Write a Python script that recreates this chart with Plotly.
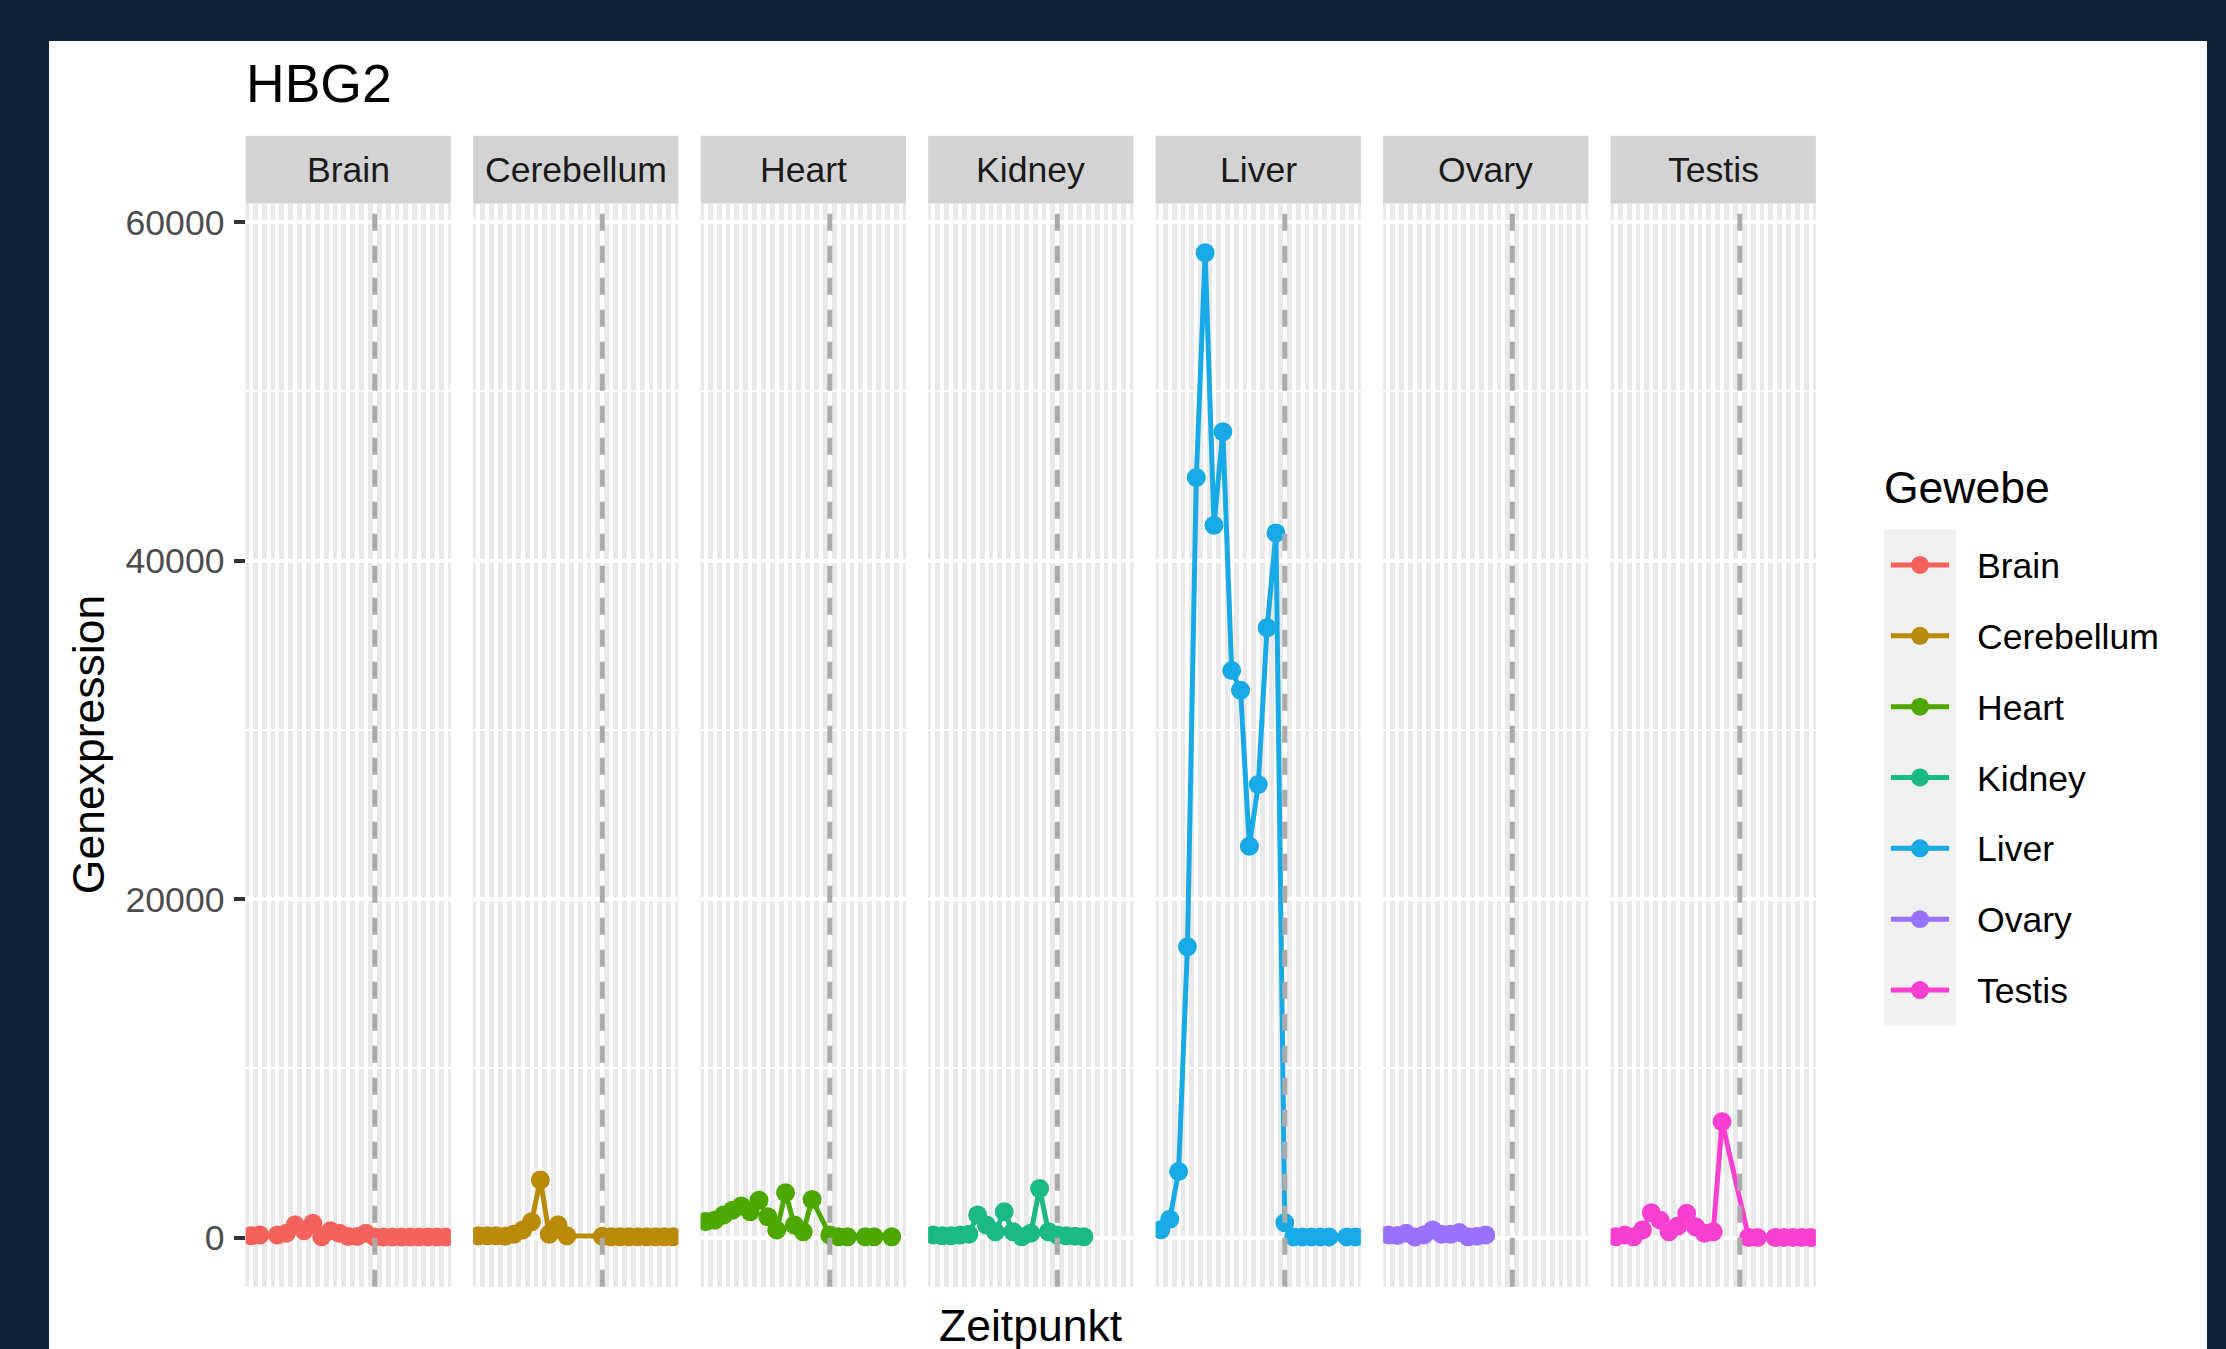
import plotly.graph_objects as go

W, H = 2226, 1349

# ---------------- data ----------------
categories = ["4 wpc", "5 wpc", "6 wpc", "7 wpc", "8 wpc", "9 wpc", "10 wpc",
              "11 wpc", "12 wpc", "13 wpc", "16 wpc", "18 wpc", "19 wpc", "20 wpc",
              "Neugeborenes", "Säugling", "Kleinkind", "Schulkind", "Teenager",
              "Junge Erwachsene", "Junges mittleres Alter",
              "Älteres mittleres Alter", "Senioren"]
birth_category = "Neugeborenes"

tissues = ["Brain", "Cerebellum", "Heart", "Kidney", "Liver", "Ovary", "Testis"]
colors = ["#F5625C", "#BA8A08", "#4CA800", "#1BB985", "#17AAE6", "#9872FD", "#F840D0"]

brain = [100, 150, None, 150, 250, 750, 400, 850, 50, 400, 250, 60, 60, 250,
         30, 30, 30, 30, 30, 30, 30, 30, 30]
cerebellum = [100, 100, 100, 80, 200, 440, 930, 3400, 200, 750, 100, None, None, None,
              80, 50, 50, 50, 50, 50, 50, 50, 50]
heart = [950, 1030, 1330, 1620, 1860, 1530, 2200, 1230, 440, 2650, 740, 345, 2250, None,
         150, 50, 50, None, 50, 50, None, 50, None]
kidney = [150, 100, 100, 150, 200, 1330, 740, 345, 1530, 345, 50, 250, 2900, 345,
          150, 100, 80, 50, None, None, None, None, None]
liver = [455, 1077, 3900, 17180, 44910, 58190, 42090, 47610, 33500, 32340, 23120, 26770,
         36030, 41630, 870, 40, 40, 40, 40, 40, None, 40, 40]
ovary = [150, 120, 250, 30, 150, 450, 200, 200, 300, 50, 80, 150, None, None,
         None, None, None, None, None, None, None, None, None]
testis = [50, 150, 50, 450, 1470, 1030, 345, 680, 1430, 640, 250, 345, 6845, None,
          None, 0, 0, None, 0, 0, 0, 0, 0]

series = [brain, cerebellum, heart, kidney, liver, ovary, testis]

y_ticks = [0, 20000, 40000, 60000]

# ---------------- styling / layout helpers ----------------
FONT = "Liberation Sans, Arial, Helvetica, sans-serif"
DARK = "#13233A"
PANEL_BG = "#E9E9E9"
STRIP_BG = "#D3D3D3"
KEY_BG = "#F0F0F0"


def px_x(p):
    return p / W


def px_y(p):
    return 1 - p / H


panel_left0 = 245.6
panel_w = 205.3
panel_gap = 22.2
panel_top = 203.5
panel_bottom = 1286.8
strip_top = 135.7

all_vals = [v for s in series for v in s if v is not None]
lo, hi = min(all_vals), max(all_vals)
pad = (hi - lo) * 0.05
y_range = [lo - pad, hi + pad]
n_cat = len(categories)
x_range = [-0.6, n_cat - 1 + 0.6]

fig = go.Figure()
layout = dict(
    width=W, height=H, autosize=False,
    margin=dict(l=0, r=0, t=0, b=0, pad=0),
    paper_bgcolor="white", plot_bgcolor=PANEL_BG,
    font=dict(family=FONT, color="black"),
    showlegend=False,
)
shapes = []
annotations = []

for k, (name, col, vals) in enumerate(zip(tissues, colors, series)):
    sfx = "" if k == 0 else str(k + 1)
    x0 = panel_left0 + k * (panel_w + panel_gap)
    x1 = x0 + panel_w
    layout["xaxis" + sfx] = dict(
        domain=[px_x(x0), px_x(x1)], anchor="y" + sfx,
        type="category", categoryorder="array", categoryarray=categories,
        range=x_range, tickmode="array", tickvals=categories,
        showticklabels=False, ticks="", showgrid=True, gridcolor="white",
        gridwidth=4, zeroline=False, showline=False, fixedrange=True,
    )
    layout["yaxis" + sfx] = dict(
        domain=[px_y(panel_bottom), px_y(panel_top)], anchor="x" + sfx,
        range=y_range, tickmode="array", tickvals=y_ticks, tickformat="d",
        showgrid=True, gridcolor="white", gridwidth=4,
        minor=dict(tickmode="linear", tick0=0, dtick=10000, showgrid=True,
                   gridcolor="white", gridwidth=2, ticks=""),
        zeroline=False, showline=False, fixedrange=True,
        showticklabels=(k == 0), ticks="outside" if k == 0 else "",
        ticklen=11, tickwidth=4, tickcolor="#333333",
        tickfont=dict(size=35.6, color="#4D4D4D", family=FONT),
        ticklabelstandoff=2,
    )
    xs = [c for c, v in zip(categories, vals) if v is not None]
    ys = [v for v in vals if v is not None]
    fig.add_trace(go.Scatter(
        x=xs, y=ys, mode="lines+markers", name=name,
        line=dict(color=col, width=5),
        marker=dict(color=col, size=19),
        xaxis="x" + sfx, yaxis="y" + sfx, showlegend=False,
        hoverinfo="x+y+name",
    ))
    # dashed vertical line at birth
    shapes.append(dict(
        type="line", xref="x" + sfx, yref="y" + sfx + " domain",
        x0=categories.index(birth_category), x1=categories.index(birth_category),
        y0=0, y1=1, line=dict(color="#ABABAB", width=5, dash="17px,15px"),
        layer="above",
    ))
    # facet strip
    shapes.append(dict(
        type="rect", xref="paper", yref="paper",
        x0=px_x(x0), x1=px_x(x1), y0=px_y(panel_top), y1=px_y(strip_top),
        fillcolor=STRIP_BG, line=dict(width=0), layer="below",
    ))
    annotations.append(dict(
        text=name, xref="paper", yref="paper",
        x=px_x((x0 + x1) / 2), y=px_y((panel_top + strip_top) / 2),
        xanchor="center", yanchor="middle", showarrow=False,
        font=dict(size=35.6, color="#1A1A1A", family=FONT),
    ))

# ---------------- legend (drawn manually on an auxiliary axis) ----------------
key_left, key_right = 1884.5, 1955.5
key_top, key_bottom = 529.5, 1025.5
nt = len(tissues)
layout["xaxis8"] = dict(domain=[px_x(key_left), px_x(key_right)], anchor="y8",
                        range=[0, 1], visible=False, fixedrange=True)
layout["yaxis8"] = dict(domain=[px_y(key_bottom), px_y(key_top)], anchor="x8",
                        range=[nt, 0], visible=False, fixedrange=True)
shapes.append(dict(type="rect", xref="x8 domain", yref="y8 domain",
                   x0=0, x1=1, y0=0, y1=1, fillcolor=KEY_BG,
                   line=dict(width=0), layer="below"))
for k, (name, col) in enumerate(zip(tissues, colors)):
    yk = k + 0.5
    fig.add_trace(go.Scatter(x=[0.09, 0.91], y=[yk, yk], mode="lines",
                             line=dict(color=col, width=5), xaxis="x8", yaxis="y8",
                             showlegend=False, hoverinfo="skip"))
    fig.add_trace(go.Scatter(x=[0.5], y=[yk], mode="markers",
                             marker=dict(color=col, size=18), xaxis="x8", yaxis="y8",
                             showlegend=False, hoverinfo="skip"))
    key_center_px = key_top + (key_bottom - key_top) * yk / nt
    annotations.append(dict(
        text=name, xref="paper", yref="paper", x=px_x(1975), y=px_y(key_center_px + 1),
        xanchor="left", yanchor="middle", showarrow=False,
        font=dict(size=35.6, color="black", family=FONT),
    ))
annotations.append(dict(
    text="Gewebe", xref="paper", yref="paper", x=px_x(1882), y=px_y(487),
    xanchor="left", yanchor="middle", showarrow=False,
    font=dict(size=44.5, color="black", family=FONT),
))

# ---------------- titles ----------------
annotations.append(dict(
    text="HBG2", xref="paper", yref="paper", x=px_x(244), y=px_y(83),
    xanchor="left", yanchor="middle", showarrow=False,
    font=dict(size=53.5, color="black", family=FONT),
))
annotations.append(dict(
    text="Genexpression", xref="paper", yref="paper", x=px_x(88),
    y=px_y((panel_top + panel_bottom) / 2), textangle=-90,
    xanchor="center", yanchor="middle", showarrow=False,
    font=dict(size=44.5, color="black", family=FONT),
))
last_right = panel_left0 + 6 * (panel_w + panel_gap) + panel_w
annotations.append(dict(
    text="Zeitpunkt", xref="paper", yref="paper",
    x=px_x((panel_left0 + last_right) / 2), y=px_y(1325),
    xanchor="center", yanchor="middle", showarrow=False,
    font=dict(size=44.5, color="black", family=FONT),
))

# ---------------- dark frame around the card ----------------
card_left, card_top, card_right = 49, 41, 2207
for (a, b, c, d) in [(0, W, 0, card_top), (0, card_left, 0, H), (card_right, W, 0, H)]:
    shapes.append(dict(type="rect", xref="paper", yref="paper",
                       x0=px_x(a), x1=px_x(b), y0=px_y(d), y1=px_y(c),
                       fillcolor=DARK, line=dict(width=0), layer="above"))

layout["shapes"] = shapes
layout["annotations"] = annotations
fig.update_layout(**layout)

fig.write_html("out.html", config={"displayModeBar": False},
               post_script="document.body.style.margin='0';document.body.style.overflow='hidden';")
